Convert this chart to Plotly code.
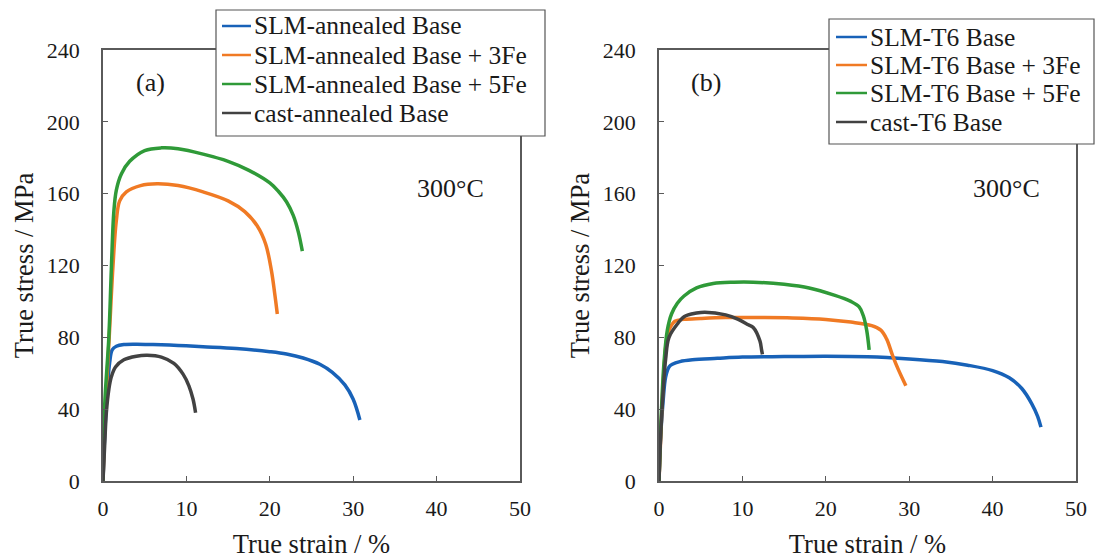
import plotly.graph_objects as go

# ---- data: panel (a) annealed ----
a_blue_x = [0, 0.2, 0.5, 0.8, 1.1, 1.6, 2.5, 4, 6, 9, 12, 16, 20, 22, 24, 26, 27.5, 29, 30, 30.8]
a_blue_y = [0, 25, 50, 66, 73, 75, 76, 76.2, 76, 75.5, 74.8, 73.8, 72, 70.7, 68.5, 65, 60.5, 53.5, 45.5, 34]
a_orange_x = [0, 0.3, 0.8, 1.2, 1.6, 2.0, 2.8, 4.5, 6.5, 9, 12, 15, 17, 18.5, 19.5, 20.2, 20.6, 20.9]
a_orange_y = [0, 40, 85, 120, 145, 156, 161, 164.5, 165.5, 164.5, 161, 156, 150, 142, 132, 117, 104, 93]
a_green_x = [0, 0.2, 0.7, 1.0, 1.3, 1.6, 2.2, 3.2, 5, 7, 9, 12, 15, 17.5, 20, 21, 22, 22.8, 23.4, 23.9]
a_green_y = [0, 42, 80, 118, 150, 162, 171, 178, 184, 185.5, 185, 182, 178, 173, 166, 161.5, 155.5, 148, 139, 128]
a_black_x = [0, 0.2, 0.4, 0.7, 1.0, 1.5, 2.5, 4, 5.3, 7, 8.5, 9.6, 10.3, 10.8, 11.1]
a_black_y = [0, 20, 38, 51, 58, 63.5, 67.5, 69.5, 70, 69, 65.5, 59.5, 53, 45.5, 38]

# ---- data: panel (b) T6 ----
b_blue_x = [0, 0.2, 0.5, 0.8, 1.2, 1.6, 2.5, 4, 7, 10, 15, 20, 25, 30, 34, 37, 40, 42, 43.5, 44.7, 45.4, 45.8]
b_blue_y = [0, 25, 45, 58, 63.5, 65, 66.5, 67.5, 68.3, 69, 69.3, 69.5, 69.2, 68, 66.5, 64.5, 61.5, 57.5, 51.5, 43, 36, 30]
b_orange_x = [0, 0.3, 0.6, 0.9, 1.3, 1.9, 3, 5, 8, 12, 16, 20, 23, 25.5, 26.6, 27.3, 28, 28.7, 29.3, 29.6]
b_orange_y = [0, 35, 62, 78, 85, 89, 90, 90.5, 91, 91, 90.8, 90, 88.5, 86.5, 84, 79, 70, 62, 56, 53]
b_green_x = [0, 0.3, 0.6, 1.0, 1.5, 2.2, 3, 4.5, 6.5, 9, 11.3, 15, 18, 21, 23, 24, 24.5, 24.9, 25.2]
b_green_y = [0, 40, 66, 84, 93, 99, 103, 107.5, 110, 110.7, 110.7, 109.5, 107.5, 103.5, 100, 97, 92, 84, 73]
b_black_x = [0, 0.2, 0.5, 0.8, 1.2, 2.3, 3, 4.5, 5.5, 8, 9.5, 10.7, 11.3, 12.1, 12.3, 12.4]
b_black_y = [0, 25, 50, 68, 80, 88, 91.5, 93.5, 94, 92.5, 90, 87, 85.5, 78, 73, 70.5]

a_names = ["SLM-annealed Base", "SLM-annealed Base + 3Fe", "SLM-annealed Base + 5Fe", "cast-annealed Base"]
b_names = ["SLM-T6 Base", "SLM-T6 Base + 3Fe", "SLM-T6 Base + 5Fe", "cast-T6 Base"]

x_ticks = [0, 10, 20, 30, 40, 50]
y_ticks = [0, 40, 80, 120, 160, 200, 240]

colors = ["#1862b8", "#f07a24", "#2f9a38", "#424242"]
FONT = "Liberation Serif, Times New Roman, serif"
W, H = 1096, 559

fig = go.Figure()

a_series = [(a_blue_x, a_blue_y), (a_orange_x, a_orange_y), (a_green_x, a_green_y), (a_black_x, a_black_y)]
b_series = [(b_blue_x, b_blue_y), (b_orange_x, b_orange_y), (b_green_x, b_green_y), (b_black_x, b_black_y)]

for i, ((x, y), n) in enumerate(zip(a_series, a_names)):
    fig.add_trace(go.Scatter(x=x, y=y, name=n, mode="lines", showlegend=False, hoverinfo="skip",
                             line=dict(color=colors[i], width=3.5, shape="spline", smoothing=1.0),
                             xaxis="x", yaxis="y"))
for i, ((x, y), n) in enumerate(zip(b_series, b_names)):
    fig.add_trace(go.Scatter(x=x, y=y, name=n, mode="lines", showlegend=False, hoverinfo="skip",
                             line=dict(color=colors[i], width=3.5, shape="spline", smoothing=1.0),
                             xaxis="x2", yaxis="y2"))

axis_common = dict(showgrid=False, zeroline=False, showline=True, mirror=True, linecolor="#5a5a5a", linewidth=1.5,
                   ticks="inside", ticklen=5, tickcolor="#5a5a5a", automargin=False,
                   tickfont=dict(family=FONT, size=22, color="#1a1a1a"))
xt = dict(text="True strain / %", font=dict(size=26.5), standoff=15)
yt = dict(text="True stress / MPa", font=dict(size=26.5), standoff=6)

ML, MR, MT, MB = 103, W - 1076, 50, H - 481
PW = W - ML - MR
PH = H - MT - MB


def px(xp):
    return (xp - ML) / PW


def py(yp):
    return (H - MB - yp) / PH


fig.update_layout(
    width=W, height=H,
    margin=dict(l=ML, r=MR, t=MT, b=MB),
    paper_bgcolor="white", plot_bgcolor="white",
    font=dict(family=FONT, color="#1a1a1a"),
    showlegend=False,
    hovermode=False,
    xaxis=dict(domain=[0, px(520)], range=[0, 50], tickvals=x_ticks, anchor="y", ticklabelstandoff=7,
               title=xt, **axis_common),
    yaxis=dict(domain=[0, 1], range=[0, 240], tickvals=y_ticks, anchor="x", ticklabelstandoff=17,
               title=yt, **axis_common),
    xaxis2=dict(domain=[px(659), 1], range=[0, 50], tickvals=x_ticks, anchor="y2", ticklabelstandoff=7,
                title=xt, **axis_common),
    yaxis2=dict(domain=[0, 1], range=[0, 240], tickvals=y_ticks, anchor="x2", ticklabelstandoff=17,
                title=yt, **axis_common),
)


# legends drawn as boxed keys (positions given in figure pixels)
def add_legend(names, box, line_x, text_x, ys):
    x0, y0, x1, y1 = box
    fig.add_shape(type="rect", xref="paper", yref="paper", layer="above",
                  x0=px(x0), x1=px(x1), y0=py(y0), y1=py(y1),
                  fillcolor="white", line=dict(color="#555555", width=1.2))
    for i, (n, yy) in enumerate(zip(names, ys)):
        fig.add_shape(type="line", xref="paper", yref="paper", layer="above",
                      x0=px(line_x[0]), x1=px(line_x[1]), y0=py(yy), y1=py(yy),
                      line=dict(color=colors[i], width=2.5))
        fig.add_annotation(text=n, x=px(text_x), y=py(yy), xref="paper", yref="paper",
                           xanchor="left", yanchor="middle", showarrow=False,
                           font=dict(family=FONT, size=25.5, color="#1a1a1a"))


add_legend(a_names, (216, 10, 545, 136), (222, 251), 252, [26, 55, 84, 113])
add_legend(b_names, (829, 19, 1094, 144), (836, 867), 868, [37, 65, 93, 122])

ann_font = dict(family=FONT, size=26, color="#1a1a1a")
for t, x, y in [("(a)", 150, 82), ("300°C", 450, 188), ("(b)", 706, 82), ("300°C", 1006, 188)]:
    fig.add_annotation(text=t, x=px(x), y=py(y), xref="paper", yref="paper", showarrow=False,
                       xanchor="center", yanchor="middle", font=ann_font)

fig.write_html("out.html", config={"displayModeBar": False},
               post_script="document.body.style.margin='0';")
